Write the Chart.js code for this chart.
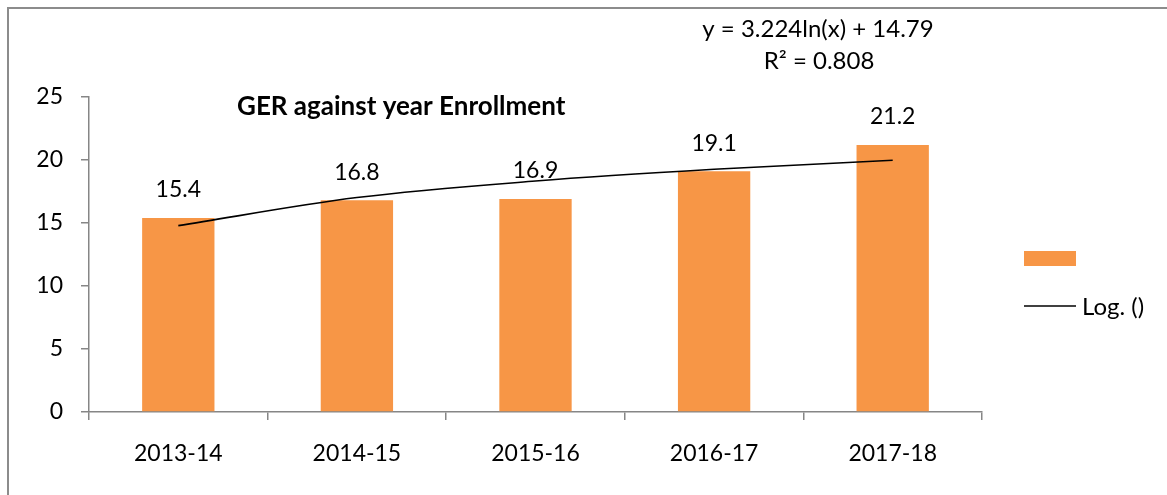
<!DOCTYPE html>
<html>
<head>
<meta charset="utf-8">
<script src="https://cdn.jsdelivr.net/npm/chart.js@4.4.1/dist/chart.umd.min.js"></script>
<style>
html,body{margin:0;padding:0;background:#fff;}
#wrap{position:relative;width:1167px;height:495px;}
canvas{display:block;}
</style>
</head>
<body>
<div id="wrap"><canvas id="c" width="1167" height="495"></canvas></div>
<script>
const categories = ["2013-14", "2014-15", "2015-16", "2016-17", "2017-18"];
const gerValues = [15.4, 16.8, 16.9, 19.1, 21.2];
// logarithmic trendline values read at each category (y = 3.224ln(x) + 14.79)
const trendValues = [14.79, 17.02, 18.33, 19.26, 19.98];
const yTicks = [0, 5, 10, 15, 20, 25];
const chartTitle = "GER against year Enrollment";
const equationText = "y = 3.224ln(x) + 14.79";
const r2Text = "R² = 0.808";
const trendLegend = "Log. ()";

const FONT = "Lato, 'Open Sans', sans-serif";
const ORANGE = "#F79646";
const AXIS = "#868686";

const decor = {
  id: "decor",
  afterDatasetsDraw(chart) {
    const ctx = chart.ctx;
    const meta = chart.getDatasetMeta(0);
    ctx.save();
    ctx.fillStyle = "#000";
    ctx.font = "23px " + FONT;
    ctx.textAlign = "center";
    ctx.textBaseline = "middle";
    meta.data.forEach((bar, i) => {
      ctx.fillText(String(gerValues[i]), bar.x, bar.y - 28);
    });
    ctx.restore();
  },
  afterDraw(chart) {
    const ctx = chart.ctx;
    ctx.save();
    // outer frame (left and top edges)
    ctx.strokeStyle = "#8c8c8c";
    ctx.lineWidth = 2;
    ctx.beginPath();
    ctx.moveTo(8, 495);
    ctx.lineTo(8, 8);
    ctx.lineTo(1167, 8);
    ctx.stroke();

    ctx.fillStyle = "#000";
    ctx.textBaseline = "middle";
    // title
    ctx.font = "bold 26px " + FONT;
    ctx.textAlign = "left";
    ctx.fillText(chartTitle, 237, 107);
    // equation
    ctx.font = "24px " + FONT;
    ctx.textAlign = "center";
    ctx.fillText(equationText, 818, 29);
    ctx.fillText(r2Text, 819, 61);
    // legend
    ctx.fillStyle = ORANGE;
    ctx.fillRect(1024, 251, 52, 15);
    ctx.strokeStyle = "#000";
    ctx.lineWidth = 1.5;
    ctx.beginPath();
    ctx.moveTo(1024, 306);
    ctx.lineTo(1076, 306);
    ctx.stroke();
    ctx.fillStyle = "#000";
    ctx.font = "24px " + FONT;
    ctx.textAlign = "left";
    ctx.fillText(trendLegend, 1082, 307);
    ctx.restore();
  }
};

new Chart(document.getElementById("c"), {
  type: "bar",
  data: {
    labels: categories,
    datasets: [
      {
        type: "bar",
        data: gerValues,
        backgroundColor: ORANGE,
        borderWidth: 0,
        categoryPercentage: 1,
        barPercentage: 0.405,
        order: 2
      },
      {
        type: "line",
        data: trendValues,
        borderColor: "#000",
        borderWidth: 1.6,
        pointRadius: 0,
        fill: false,
        cubicInterpolationMode: "monotone",
        order: 1
      }
    ]
  },
  options: {
    responsive: false,
    animation: false,
    events: [],
    layout: { padding: { left: 0, right: 185, top: 97, bottom: 0 } },
    plugins: { legend: { display: false }, tooltip: { enabled: false }, title: { display: false } },
    scales: {
      x: {
        offset: true,
        grid: { offset: true, drawOnChartArea: false, drawTicks: true, tickLength: 8, color: AXIS, lineWidth: 1.5 },
        border: { display: true, color: AXIS, width: 1.5 },
        ticks: { color: "#000", font: { family: FONT, size: 23 }, padding: 20, maxRotation: 0 },
        afterFit(s) { s.height = 83; }
      },
      y: {
        min: 0,
        max: 25,
        afterBuildTicks(s) { s.ticks = yTicks.map(v => ({ value: v })); },
        grid: { drawOnChartArea: false, drawTicks: true, tickLength: 8, color: AXIS, lineWidth: 1.5 },
        border: { display: true, color: AXIS, width: 1.5 },
        ticks: { color: "#000", font: { family: FONT, size: 23 }, padding: 18 },
        afterFit(s) { s.width = 89; }
      }
    }
  },
  plugins: [decor]
});
</script>
</body>
</html>
